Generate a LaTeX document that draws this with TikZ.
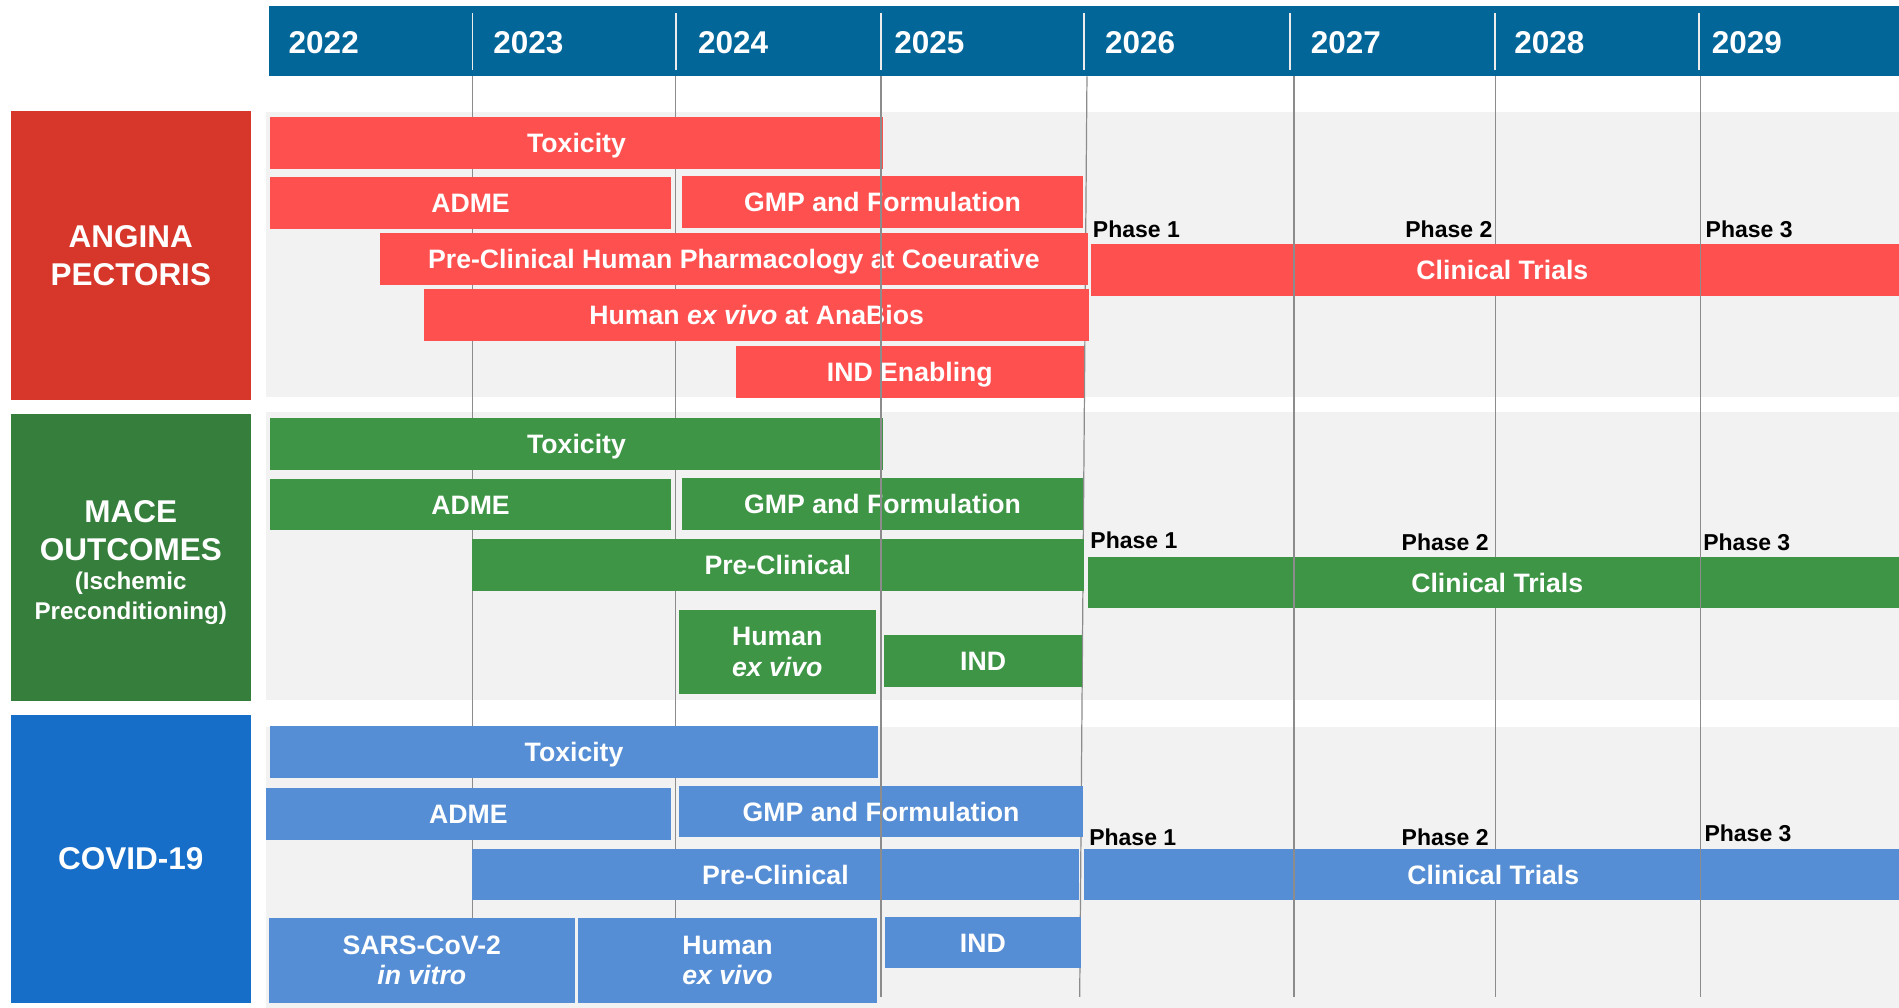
\documentclass[tikz,border=0pt]{standalone}
\usepackage{fontspec}
\setmainfont{Liberation Sans}
\usepackage{tikz}
\definecolor{headblue}{RGB}{3,102,153}
\definecolor{anginadark}{RGB}{215,54,43}
\definecolor{anginabar}{RGB}{255,80,80}
\definecolor{macedark}{RGB}{53,126,59}
\definecolor{macebar}{RGB}{61,149,69}
\definecolor{coviddark}{RGB}{22,110,200}
\definecolor{covidbar}{RGB}{85,142,213}
\definecolor{panelgray}{RGB}{242,242,242}
\definecolor{gridgray}{RGB}{140,140,140}
\newcommand{\taskBar}[7]{\node[#1, minimum width={(#5-#3)*0.5pt}, minimum height={(#6-#4)*0.5pt}] (#2) at ({(#3+#5)/2},{(#4+#6)/2}) {#7};}
\newcommand{\barFont}[0]{\bfseries\fontsize{11}{12.5}\selectfont}

\begin{document}
\begin{tikzpicture}[x=0.5pt, y=-0.5pt]
  \tikzset{
    bar/.style={inner sep=0pt, text=white, align=center, font=\barFont},
    oneline/.style={text height=7.9pt, text depth=0pt},
    anginabox/.style={bar, oneline, fill=anginabar},
    macebox/.style={bar, oneline, fill=macebar},
    covidbox/.style={bar, oneline, fill=covidbar},
    macetwo/.style={bar, fill=macebar},
    covidtwo/.style={bar, fill=covidbar},
    category/.style={inner sep=0pt, text=white, align=center, font=\bfseries\fontsize{13}{15.5}\selectfont},
    subcategory/.style={inner sep=0pt, text=white, align=center, font=\bfseries\fontsize{10}{12}\selectfont},
    yearlabel/.style={anchor=west, inner sep=0pt, text=white, font=\bfseries\fontsize{13}{15}\selectfont},
    phaselabel/.style={anchor=west, inner sep=0pt, font=\bfseries\fontsize{9.5}{11}\selectfont},
    grid/.style={draw=gridgray, line width=0.5pt}
  }
  \useasboundingbox (0,0) rectangle (1568,832);
  \fill[headblue] (222,5) rectangle (1568,63);
  \foreach \x in {390,558,727.5,895,1065,1234.5,1403}
    \draw[white!85!gray, line width=0.6pt] (\x,11) -- (\x,58);
  \foreach \yr/\x in {2022/238,2023/407,2024/576,2025/738,2026/912,2027/1082,2028/1250,2029/1413}
    \node[yearlabel] (y\yr) at (\x,35) {\yr};
  \fill[panelgray] (220,92.5) rectangle (1568,328);
  \fill[panelgray] (220,340) rectangle (1568,578);
  \fill[panelgray] (220,600) rectangle (1568,832);
  \taskBar{category, fill=anginadark}{angina}{9}{92}{207}{330}{ANGINA\\PECTORIS}
  \taskBar{category, fill=macedark}{mace}{9}{342}{207}{579}{}
  \node[category] (macetext) at (108,438) {MACE\\OUTCOMES};
  \node[subcategory] (macesub) at (108,494) {(Ischemic\\Preconditioning)};
  \taskBar{category, fill=coviddark}{covid}{9}{590}{207}{828}{COVID-19}
  \foreach \x in {390,558,1234.5}
    \draw[grid] (\x,63) -- (\x,823);
  \draw[grid] (897.5,63) -- (891.5,823);
  \taskBar{anginabox}{a-tox}{223}{96.5}{729}{139.5}{Toxicity}
  \taskBar{anginabox}{a-adme}{223}{146}{554}{189}{ADME}
  \taskBar{anginabox}{a-gmp}{563}{145.5}{894.5}{188}{GMP and Formulation}
  \taskBar{anginabox}{a-pre}{313.5}{192.5}{898.5}{235}{Pre-Clinical Human Pharmacology at Coeurative}
  \taskBar{anginabox}{a-exv}{350}{239}{899.5}{281.5}{Human \textit{ex vivo} at AnaBios}
  \taskBar{anginabox}{a-ind}{607.5}{285.5}{895}{328.5}{IND Enabling}
  \taskBar{anginabox}{a-clin}{901}{201.5}{1580}{244}{Clinical Trials}
  \taskBar{macebox}{m-tox}{223}{345.5}{729}{388}{Toxicity}
  \taskBar{macebox}{m-adme}{223}{395.5}{554}{438}{ADME}
  \taskBar{macebox}{m-gmp}{563}{394.5}{894.5}{437.5}{GMP and Formulation}
  \taskBar{macebox}{m-pre}{389.5}{445}{895}{488}{Pre-Clinical}
  \taskBar{macetwo}{m-exv}{560.5}{503.5}{723}{573}{Human\\\textit{ex vivo}}
  \taskBar{macebox}{m-ind}{730}{524.5}{893.5}{567}{IND}
  \taskBar{macebox}{m-clin}{898.5}{460}{1574}{502}{Clinical Trials}
  \taskBar{covidbox}{c-tox}{223}{599.5}{725}{642}{Toxicity}
  \taskBar{covidbox}{c-adme}{219.5}{650.5}{554}{693.5}{ADME}
  \taskBar{covidbox}{c-gmp}{560.5}{649}{894.5}{691.5}{GMP and Formulation}
  \taskBar{covidbox}{c-pre}{389.5}{701}{891}{743.5}{Pre-Clinical}
  \taskBar{covidtwo}{c-sars}{222}{758}{474.5}{828}{SARS-CoV-2\\\textit{in vitro}}
  \taskBar{covidtwo}{c-exv}{477}{758}{724.5}{828}{Human\\\textit{ex vivo}}
  \taskBar{covidbox}{c-ind}{730.5}{757.5}{892.5}{799.5}{IND}
  \taskBar{covidbox}{c-clin}{895}{701}{1571}{743}{Clinical Trials}
  \foreach \x in {727.5,1068.5,1404}
    \draw[grid] (\x,63) -- (\x,823);
  \node[phaselabel] (a-p1) at (902,189) {Phase 1};
  \node[phaselabel] (a-p2) at (1160,189) {Phase 2};
  \node[phaselabel] (a-p3) at (1408,189) {Phase 3};
  \node[phaselabel] (m-p1) at (900,446) {Phase 1};
  \node[phaselabel] (m-p2) at (1157,448) {Phase 2};
  \node[phaselabel] (m-p3) at (1406,448) {Phase 3};
  \node[phaselabel] (c-p1) at (899,691) {Phase 1};
  \node[phaselabel] (c-p2) at (1157,691) {Phase 2};
  \node[phaselabel] (c-p3) at (1407,688) {Phase 3};
\end{tikzpicture}
\end{document}
